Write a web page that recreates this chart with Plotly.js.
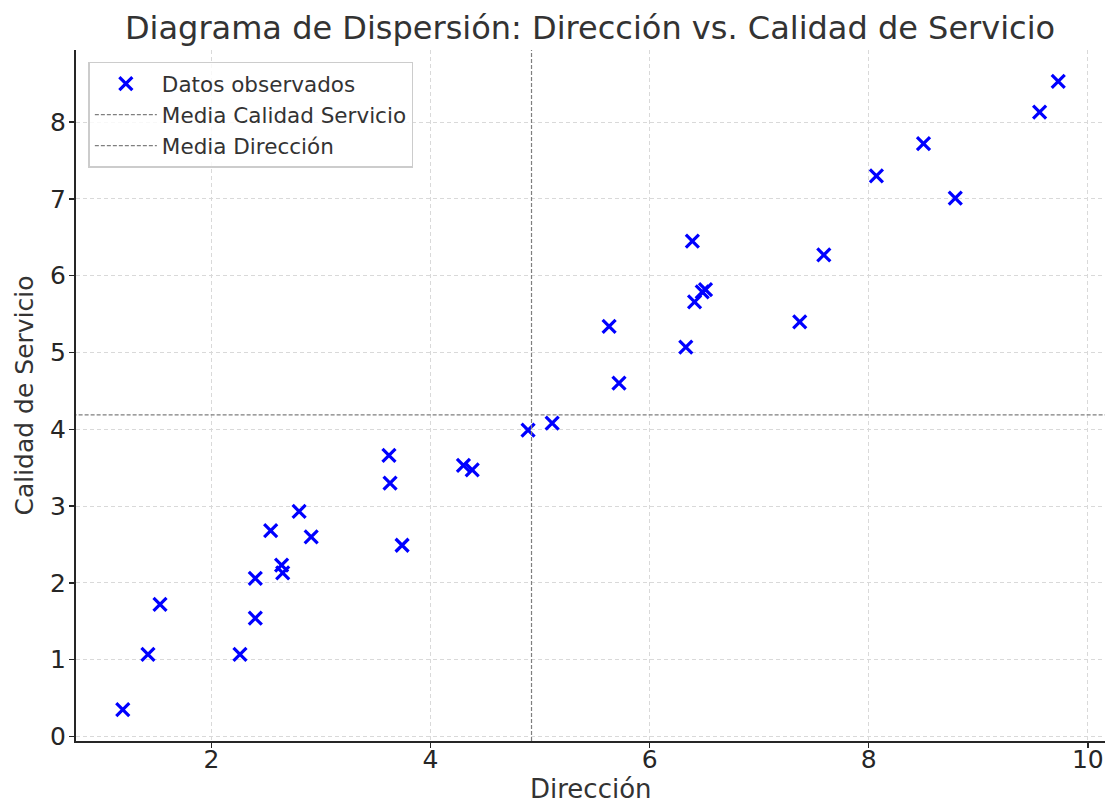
<!DOCTYPE html>
<html>
<head>
<meta charset="utf-8">
<script src="https://cdn.plot.ly/plotly-3.0.1.min.js"></script>
<style>html,body{margin:0;padding:0;background:#fff;}#chart{width:1105px;height:803px;}</style>
</head>
<body>
<div id="chart"></div>
<script>
// Data
const direccion = [1.19, 1.42, 1.53, 2.26, 2.40, 2.40, 2.64, 2.65, 2.54, 2.80, 2.91, 3.62, 3.63, 3.74, 4.30, 4.38,
                   4.89, 5.11, 5.63, 5.72, 6.39, 7.59, 6.33, 6.41, 6.48, 6.51, 7.37, 8.07, 8.50, 8.79, 9.56, 9.73];
const calidad   = [0.35, 1.07, 1.72, 1.07, 1.54, 2.06, 2.23, 2.13, 2.68, 2.93, 2.60, 3.66, 3.30, 2.49, 3.53, 3.47,
                   3.99, 4.08, 5.34, 4.60, 6.45, 6.27, 5.07, 5.66, 5.79, 5.82, 5.40, 7.30, 7.72, 7.01, 8.13, 8.53];
const xTicks = [2, 4, 6, 8, 10];
const yTicks = [0, 1, 2, 3, 4, 5, 6, 7, 8];
const titleText = 'Diagrama de Dispersión: Dirección vs. Calidad de Servicio';
const xLabel = 'Dirección';
const yLabel = 'Calidad de Servicio';
const seriesNames = ['Datos observados', 'Media Calidad Servicio', 'Media Dirección'];

const mean = a => a.reduce((s, v) => s + v, 0) / a.length;
const meanX = mean(direccion);
const meanY = mean(calidad);

const span = (a) => {
  const mn = Math.min(...a), mx = Math.max(...a), p = (mx - mn) * 0.05;
  return [mn - p, mx + p];
};
const xr = span(direccion);
const yr = span(calidad);

const font = 'DejaVu Sans, Liberation Sans, sans-serif';
const meanColor = '#7f7f7f';

const traces = [
  {
    x: direccion, y: calidad, type: 'scatter', mode: 'markers', name: seriesNames[0],
    marker: {symbol: 'x-thin', size: 13, color: '#0000ff', line: {color: '#0000ff', width: 3.2}}
  },
  {
    x: [xr[0] - 10, xr[1] + 10], y: [meanY, meanY], type: 'scatter', mode: 'lines', name: seriesNames[1],
    line: {color: meanColor, width: 1.2, dash: '4px,2px'}
  },
  {
    x: [meanX, meanX], y: [yr[0] - 10, yr[1] + 10], type: 'scatter', mode: 'lines', name: seriesNames[2],
    line: {color: meanColor, width: 1.2, dash: '4px,2px'}
  }
];

const axisCommon = {
  showline: true, linecolor: '#262626', linewidth: 2,
  ticks: 'outside', ticklen: 5, tickwidth: 1.5, tickcolor: '#262626',
  showgrid: true, gridcolor: '#d9d9d9', gridwidth: 1, griddash: '4px,3px',
  zeroline: false, mirror: false,
  tickfont: {family: font, size: 25, color: '#262626'}
};

const layout = {
  width: 1105, height: 803,
  margin: {l: 76, r: 0, t: 50, b: 62},
  paper_bgcolor: '#ffffff', plot_bgcolor: '#ffffff',
  font: {family: font, color: '#333333'},
  title: {text: titleText, x: 0.534, xanchor: 'center', y: 0.965, yanchor: 'middle',
          font: {family: font, size: 32, color: '#333333'}},
  xaxis: Object.assign({}, axisCommon, {
    range: xr, tickvals: xTicks, ticktext: xTicks.map(String), ticklabelstandoff: -10
  }),
  yaxis: Object.assign({}, axisCommon, {
    range: yr, tickvals: yTicks, ticktext: yTicks.map(String), ticklabelstandoff: -2,
    title: {text: yLabel, font: {family: font, size: 25, color: '#333333'}, standoff: 9}
  }),
  annotations: [{
    text: xLabel, xref: 'paper', yref: 'paper', x: 0.5, y: -0.069, xanchor: 'center', yanchor: 'middle',
    showarrow: false, font: {family: font, size: 26, color: '#333333'}
  }],
  showlegend: true,
  legend: {
    x: 0.012, y: 0.983, xanchor: 'left', yanchor: 'top',
    bgcolor: 'rgba(255,255,255,0.8)', bordercolor: '#cccccc', borderwidth: 1.5,
    font: {family: font, size: 21.5, color: '#333333'},
    itemwidth: 62, tracegroupgap: 0,
    entrywidth: 330, entrywidthmode: 'pixels'
  }
};

Plotly.newPlot('chart', traces, layout, {displayModeBar: false, staticPlot: true});
</script>
</body>
</html>
